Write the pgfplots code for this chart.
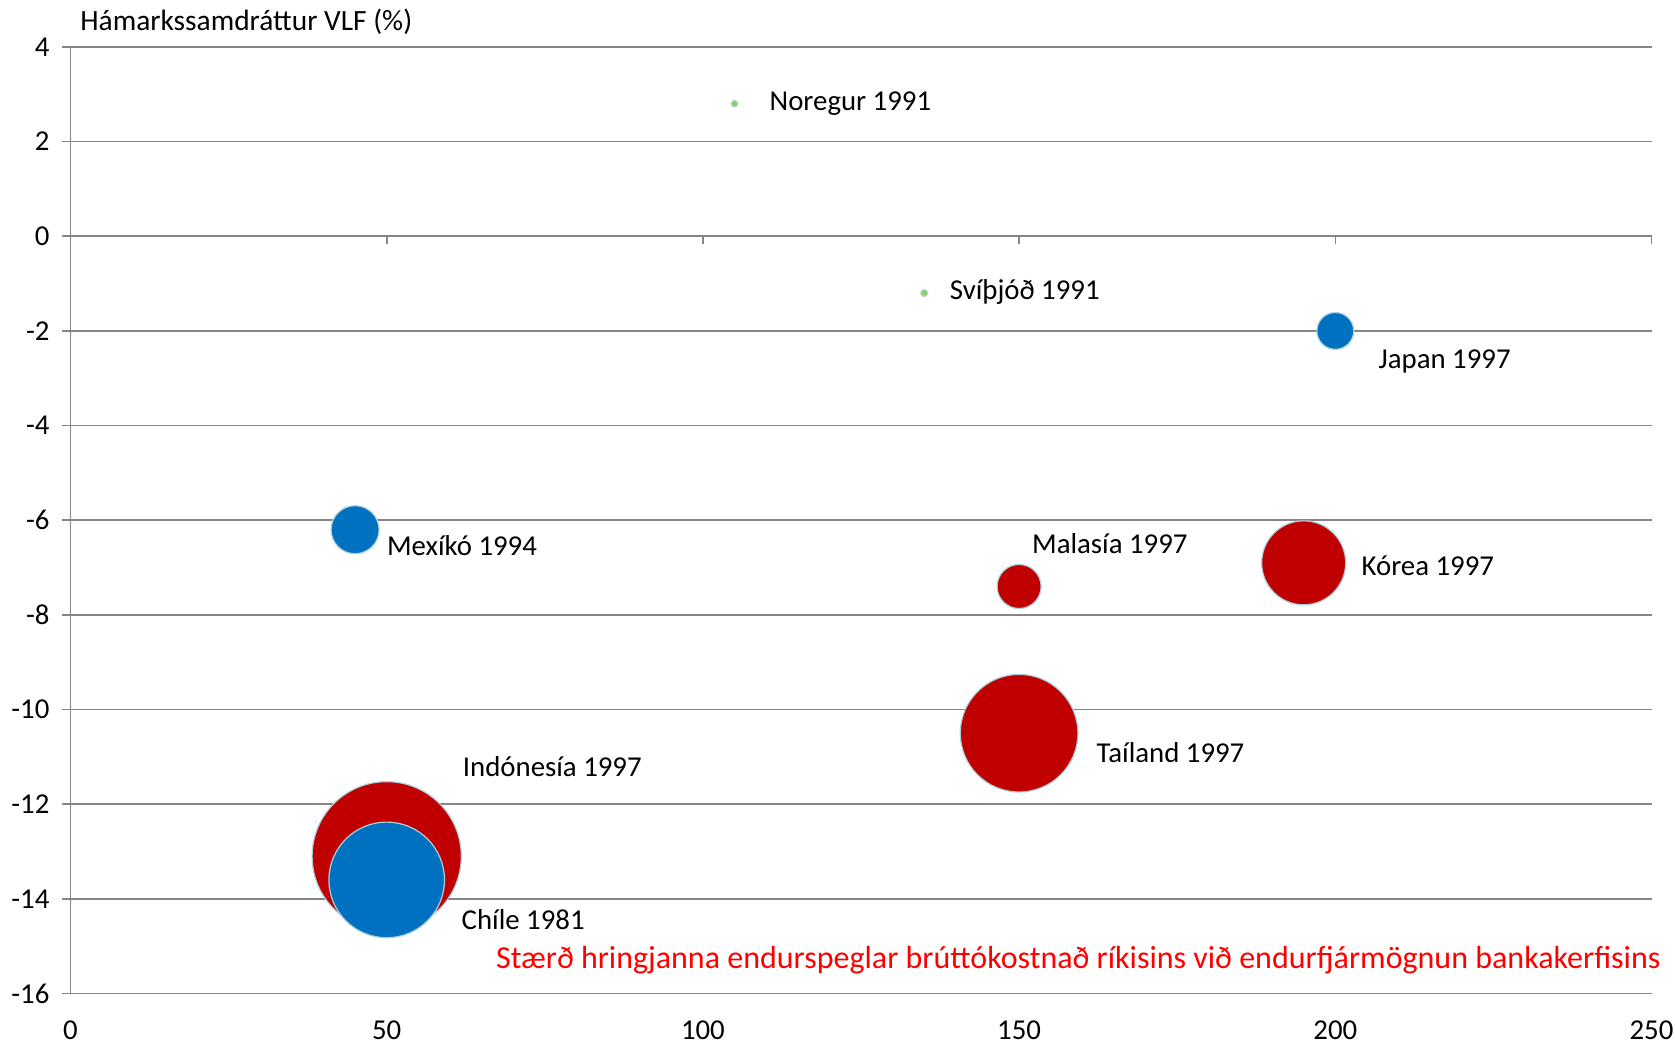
\documentclass[border=0pt]{standalone}
\usepackage{fontspec}
\setmainfont{Carlito}
\usepackage{pgfplots}
\pgfplotsset{compat=1.18}
\usepackage{pgfplotstable}
\definecolor{exred}{HTML}{C00000}
\definecolor{exblue}{HTML}{0070C0}
\definecolor{exgreen}{HTML}{92D050}
\definecolor{outl}{HTML}{A9D1DC}
\definecolor{gridc}{HTML}{868686}

% x, y, bubble radius (pt)
\pgfplotstableread{
x y r
150 -10.5 29.4
195 -6.9 21
150 -7.4 11
50 -13.1 37.3
}\redtab
\pgfplotstableread{
x y r
200 -2 9.2
45 -6.2 12
50 -13.6 28.9
}\bluetab
\pgfplotstableread{
x y r
105 2.8 1.6
135 -1.2 1.7
}\greentab

\begin{document}
\begin{tikzpicture}
\begin{axis}[
  scale only axis, width=790.5pt, height=473.25pt,
  xmin=0, xmax=250, ymin=-16, ymax=4,
  xtick={0,50,...,250}, ytick={-16,-14,...,4},
  axis y line*=left, axis x line*=bottom,
  x axis line style={draw=none},
  y axis line style={-, draw=gridc, line width=0.8pt},
  ymajorgrids, grid style={gridc, line width=0.8pt},
  tick align=outside, major tick length=4pt,
  ytick style={gridc, line width=0.8pt},
  xtick style={draw=none},
  tick label style={font=\fontsize{14.4}{17}\selectfont},
  /pgf/number format/assume math mode=true,
  xticklabel style={yshift=-6pt},
  yticklabel style={xshift=-3pt},
  clip=false,
]
\pgfplotsinvokeforeach{50,100,150,200,250}{
  \draw[gridc, line width=0.8pt] (axis cs:#1,0) -- ([yshift=-4pt]axis cs:#1,0);
}
\addplot[scatter, only marks, mark=*,
  scatter/use mapped color={draw=outl, fill=exred, line width=0.6pt},
  visualization depends on={\thisrow{r} \as \rad},
  scatter/@pre marker code/.append style={/tikz/mark size=\rad}]
  table[x=x, y=y] {\redtab};
\addplot[scatter, only marks, mark=*,
  scatter/use mapped color={draw=outl, fill=exblue, line width=0.6pt},
  visualization depends on={\thisrow{r} \as \rad},
  scatter/@pre marker code/.append style={/tikz/mark size=\rad}]
  table[x=x, y=y] {\bluetab};
\addplot[scatter, only marks, mark=*,
  scatter/use mapped color={draw=outl, fill=exgreen, line width=0.6pt},
  visualization depends on={\thisrow{r} \as \rad},
  scatter/@pre marker code/.append style={/tikz/mark size=\rad}]
  table[x=x, y=y] {\greentab};

\begin{scope}[every node/.style={font=\fontsize{14.4}{17}\selectfont, inner sep=0pt, anchor=west}]
\node at (axis cs:110.5,2.80) {Noregur 1991};
\node at (axis cs:139.0,-1.17) {Svíþjóð 1991};
\node at (axis cs:206.8,-2.64) {Japan 1997};
\node at (axis cs:50.0,-6.54) {Mexíkó 1994};
\node at (axis cs:152.0,-6.50) {Malasía 1997};
\node at (axis cs:204.1,-6.97) {Kórea 1997};
\node at (axis cs:162.2,-10.90) {Taíland 1997};
\node at (axis cs:62.0,-11.21) {Indónesía 1997};
\node at (axis cs:61.8,-14.44) {Chíle 1981};
\node[font=\fontsize{14.7}{17}\selectfont] at (axis cs:1.5,4.54) {Hámarkssamdráttur VLF (\%)};
\node[anchor=east, text=red, font=\fontsize{16}{19}\selectfont] at (axis cs:251.5,-15.30) {Stærð hringjanna endurspeglar brúttókostnað ríkisins við endurfjármögnun bankakerfisins};
\end{scope}
\coordinate (SW) at (rel axis cs:0,0);
\coordinate (NE) at (rel axis cs:1,1);
\end{axis}
\pgfresetboundingbox
\path (SW) ++(-35.25pt,-26.75pt) coordinate (BL);
\path (NE) ++(11.75pt,23.5pt) coordinate (TR);
\useasboundingbox (BL) rectangle (TR);
\end{tikzpicture}
\end{document}
